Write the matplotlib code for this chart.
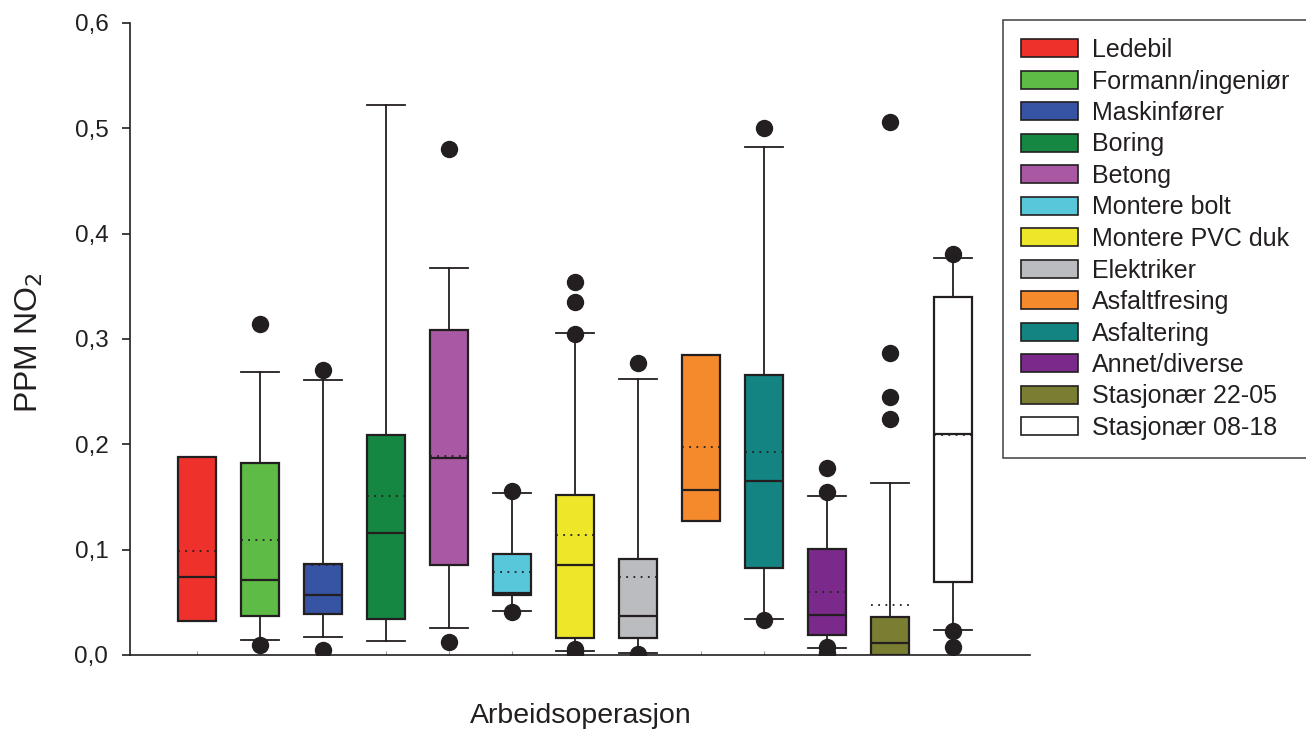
import matplotlib
matplotlib.use("Agg")
import matplotlib.pyplot as plt
from matplotlib.patches import Patch

plt.rcParams['font.family'] = ['Liberation Sans', 'DejaVu Sans']

categories = ["Ledebil", "Formann/ingeniør", "Maskinfører", "Boring", "Betong",
              "Montere bolt", "Montere PVC duk", "Elektriker", "Asfaltfresing",
              "Asfaltering", "Annet/diverse", "Stasjonær 22-05", "Stasjonær 08-18"]
colors = ["#EE312B", "#5DBB46", "#3653A4", "#168742", "#A958A4", "#58C7D9",
          "#EDE629", "#BBBCBF", "#F58A2C", "#138482", "#7B2A8C", "#7A7E33", "#FFFFFF"]

q1 = [0.032, 0.037, 0.039, 0.034, 0.085, 0.057, 0.016, 0.016, 0.127, 0.083, 0.019, 0.000, 0.069]
median = [0.074, 0.0715, 0.057, 0.1155, 0.187, 0.059, 0.085, 0.037, 0.157, 0.165, 0.038, 0.011, 0.2095]
q3 = [0.188, 0.182, 0.086, 0.209, 0.309, 0.096, 0.152, 0.0915, 0.285, 0.266, 0.101, 0.036, 0.340]
mean = [0.099, 0.109, 0.085, 0.151, 0.189, 0.079, 0.114, 0.074, 0.197, 0.193, 0.060, 0.0475, 0.209]
whisker_low = [0.032, 0.014, 0.017, 0.013, 0.026, 0.042, 0.004, 0.002, 0.127, 0.034, 0.007, 0.000, 0.024]
whisker_high = [0.188, 0.269, 0.261, 0.522, 0.3675, 0.1535, 0.306, 0.262, 0.285, 0.482, 0.151, 0.163, 0.377]
outliers = [
    [],
    [0.314, 0.0095],
    [0.271, 0.005],
    [],
    [0.4805, 0.012],
    [0.1557, 0.041],
    [0.354, 0.335, 0.305, 0.006, 0.002],
    [0.277, 0.001],
    [],
    [0.5005, 0.033],
    [0.178, 0.155, 0.008, 0.002, 0.0],
    [0.506, 0.2865, 0.2447, 0.2238],
    [0.381, 0.023, 0.0073],
]
yticks = [0.0, 0.1, 0.2, 0.3, 0.4, 0.5, 0.6]
ytick_labels = ["0,0", "0,1", "0,2", "0,3", "0,4", "0,5", "0,6"]

fig = plt.figure(figsize=(13.06, 7.34), dpi=100)
ax = fig.add_axes([130/1306, (734-655)/734, (1030-130)/1306, (655-23)/734])

stats = []
for i in range(len(categories)):
    stats.append(dict(label=categories[i], q1=q1[i], med=median[i], q3=q3[i],
                      mean=mean[i], whislo=whisker_low[i], whishi=whisker_high[i],
                      fliers=outliers[i]))

positions = list(range(1, len(categories) + 1))
bp = ax.bxp(stats, positions=positions, widths=0.6, patch_artist=True,
            showmeans=True, meanline=True, showfliers=True,
            boxprops=dict(edgecolor='#231F20', linewidth=1.6),
            medianprops=dict(color='#231F20', linewidth=1.6),
            meanprops=dict(color='#231F20', linestyle=(0, (1, 3)), linewidth=1.3),
            whiskerprops=dict(color='#231F20', linewidth=1.3),
            capprops=dict(color='#231F20', linewidth=1.3),
            flierprops=dict(marker='o', markerfacecolor='#231F20',
                            markeredgecolor='#231F20', markersize=11.5, linestyle='none'),
            capwidths=0.6)
for patch, c in zip(bp['boxes'], colors):
    patch.set_facecolor(c)

ax.set_xlim(-0.06, 14.22)
ax.set_ylim(0, 0.6)
ax.set_yticks(yticks)
ax.set_yticklabels(ytick_labels, fontsize=17.5, color='#231F20')
ax.set_xticks(positions)
ax.set_xticklabels([])
ax.tick_params(axis='x', direction='in', length=3, color='#999999')
ax.tick_params(axis='y', direction='out', length=6, width=1.2, color='#231F20', pad=9.6)
for s in ['top', 'right']:
    ax.spines[s].set_visible(False)
for s in ['left', 'bottom']:
    ax.spines[s].set_linewidth(1.2)
    ax.spines[s].set_color('#231F20')

fig.text(581/1306, 1 - 716/734, "Arbeidsoperasjon", fontsize=20.5, color='#231F20',
         ha='center', va='center')
fig.text(29/1306, 1 - 343/734, "PPM NO$_2$", fontsize=23, color='#231F20',
         ha='center', va='center', rotation=90)

handles = [Patch(facecolor=c, edgecolor='#231F20', linewidth=1.2) for c in colors]
leg = fig.legend(handles, categories, loc='upper left',
                 bbox_to_anchor=(1003/1306, 1 - 20/734), fontsize=18,
                 frameon=True, fancybox=False, edgecolor='#231F20',
                 handlelength=2.28, handleheight=0.72, handletextpad=0.56,
                 labelspacing=0.30, borderpad=0.72, borderaxespad=0)
leg.get_frame().set_linewidth(1.2)
for t in leg.get_texts():
    t.set_color('#231F20')

fig.savefig("out.png", dpi=100)
